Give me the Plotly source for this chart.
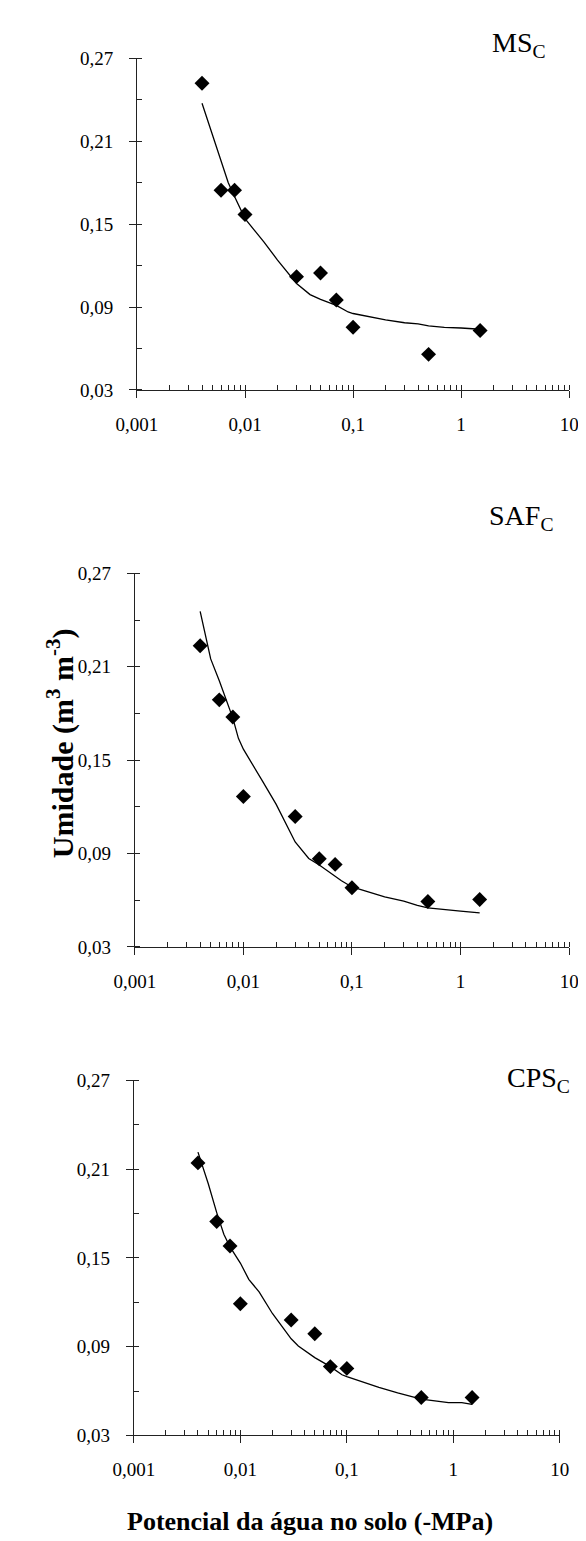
import plotly.graph_objects as go

# ---- data ----
obs_x = [0.004, 0.006, 0.008, 0.01, 0.03, 0.05, 0.07, 0.1, 0.5, 1.5]

ms_obs = [0.252, 0.1746, 0.1746, 0.157, 0.112, 0.1146, 0.095, 0.0753, 0.0557, 0.073]
saf_obs = [0.2235, 0.1887, 0.1777, 0.1266, 0.1137, 0.0866, 0.083, 0.068, 0.0592, 0.0604]
cps_obs = [0.2142, 0.1745, 0.158, 0.119, 0.108, 0.0987, 0.0765, 0.0753, 0.0556, 0.0556]

ms_fit_x = [0.004, 0.005, 0.006, 0.007, 0.008, 0.009, 0.01, 0.015, 0.02, 0.03, 0.04,
            0.05, 0.07, 0.09, 0.1, 0.2, 0.3, 0.4, 0.5, 0.7, 0.9, 1.0, 1.5]
ms_fit_y = [0.2376, 0.214, 0.195, 0.18, 0.170, 0.161, 0.154, 0.137, 0.124, 0.107, 0.099,
            0.0955, 0.0912, 0.0864, 0.0853, 0.0807, 0.0786, 0.0778, 0.0764, 0.0753, 0.0753,
            0.0748, 0.0739]

saf_fit_x = [0.004, 0.005, 0.006, 0.007, 0.008, 0.009, 0.01, 0.015, 0.02, 0.03, 0.04,
             0.05, 0.07, 0.08, 0.1, 0.2, 0.3, 0.4, 0.5, 0.7, 0.9, 1.0, 1.5]
saf_fit_y = [0.2455, 0.215, 0.201, 0.188, 0.177, 0.164, 0.157, 0.1365, 0.1217, 0.0974,
             0.0868, 0.0826, 0.0752, 0.0725, 0.0685, 0.0621, 0.0594, 0.0566, 0.0551,
             0.0539, 0.053, 0.053, 0.0518]

cps_fit_x = [0.004, 0.005, 0.006, 0.007, 0.008, 0.009, 0.01, 0.012, 0.015, 0.02, 0.03,
             0.035, 0.05, 0.07, 0.09, 0.1, 0.2, 0.3, 0.4, 0.5, 0.7, 0.9, 1.2, 1.5]
cps_fit_y = [0.2215, 0.2001, 0.1806, 0.166, 0.1574, 0.1513, 0.1465, 0.1355, 0.127, 0.1124,
             0.0953, 0.0904, 0.0826, 0.0765, 0.071, 0.0697, 0.0624, 0.0587, 0.0563, 0.0546,
             0.0532, 0.0522, 0.0522, 0.051]

panel_names = ["MS<sub>C</sub>", "SAF<sub>C</sub>", "CPS<sub>C</sub>"]

x_tickvals = [0.001, 0.01, 0.1, 1, 10]
x_ticktext = ["0,001", "0,01", "0,1", "1", "10"]
y_tickvals = [0.03, 0.09, 0.15, 0.21, 0.27]
y_ticktext = ["0,03", "0,09", "0,15", "0,21", "0,27"]

x_title = "Potencial da água no solo (-MPa)"
y_title = "Umidade (m<sup>3</sup> m<sup>-3</sup>)"

# ---- layout geometry ----
W, H = 586, 1541
x_dom = [(114, 570.3), (111.7, 570.3), (110.7, 560.5)]
y_dom = [(41, 377), (563, 941.7), (1077, 1437)]
label_pos = [(548, 27), (555, 506), (573, 1076)]

FONT = "Liberation Serif, Times New Roman, serif"
AX = "#222222"

fig = go.Figure()
series = [(ms_obs, ms_fit_x, ms_fit_y), (saf_obs, saf_fit_x, saf_fit_y),
          (cps_obs, cps_fit_x, cps_fit_y)]

layout = {}
for i, (obs, fx, fy) in enumerate(series):
    k = i + 1
    xs = "x" if k == 1 else f"x{k}"
    ys = "y" if k == 1 else f"y{k}"
    fig.add_trace(go.Scatter(x=fx, y=fy, mode="lines", xaxis=xs, yaxis=ys,
                             line=dict(color="black", width=1.3), hoverinfo="skip"))
    fig.add_trace(go.Scatter(x=obs_x, y=obs, mode="markers", xaxis=xs, yaxis=ys,
                             marker=dict(symbol="diamond", size=11.5, color="black")))
    xd = [x_dom[i][0] / W, x_dom[i][1] / W]
    yd = [1 - y_dom[i][1] / H, 1 - y_dom[i][0] / H]
    layout[f"xaxis{k}"] = dict(
        domain=xd, anchor=ys, type="log", range=[-3, 1], autorange=False,
        tickvals=x_tickvals, ticktext=x_ticktext, ticks="outside", ticklen=7,
        tickwidth=1, tickcolor=AX, showline=True, linecolor=AX, linewidth=1,
        showgrid=False, zeroline=False, ticklabelstandoff=10,
        tickfont=dict(family=FONT, size=19, color="black"),
        minor=dict(ticks="inside", ticklen=5, tickwidth=1, tickcolor=AX,
                   dtick="D1", showgrid=False))
    layout[f"yaxis{k}"] = dict(
        domain=yd, anchor=xs, range=[0.03, 0.27], autorange=False,
        tickvals=y_tickvals, ticktext=y_ticktext, ticks="outside", ticklen=7,
        tickwidth=1, tickcolor=AX, showline=True, linecolor=AX, linewidth=1,
        showgrid=False, zeroline=False, ticklabelstandoff=12,
        tickfont=dict(family=FONT, size=19, color="black"),
        minor=dict(ticks="inside", ticklen=5, tickwidth=1, tickcolor=AX,
                   tick0=0.03, dtick=0.03, showgrid=False))
    # overlay axes giving the inner half of the crossing major ticks
    layout[f"xaxis{k + 3}"] = dict(
        domain=xd, anchor=ys, overlaying=xs, type="log", range=[-3, 1],
        autorange=False, tickvals=x_tickvals, ticks="inside", ticklen=5,
        tickwidth=1, tickcolor=AX, showticklabels=False, showline=False,
        showgrid=False, zeroline=False)
    layout[f"yaxis{k + 3}"] = dict(
        domain=yd, anchor=xs, overlaying=ys, range=[0.03, 0.27],
        autorange=False, tickvals=y_tickvals, ticks="inside", ticklen=5,
        tickwidth=1, tickcolor=AX, showticklabels=False, showline=False,
        showgrid=False, zeroline=False)

annotations = []
for i, name in enumerate(panel_names):
    px, py = label_pos[i]
    annotations.append(dict(text=name, x=px / W, y=1 - py / H, xref="paper", yref="paper",
                            xanchor="right", yanchor="middle", showarrow=False,
                            font=dict(family=FONT, size=28, color="black")))
annotations.append(dict(text=f"<b>{y_title}</b>", x=34 / W, y=1 - 735 / H,
                        xref="paper", yref="paper", xanchor="center", yanchor="middle",
                        textangle=-90, showarrow=False,
                        font=dict(family=FONT, size=30, color="black")))
annotations.append(dict(text=f"<b>{x_title}</b>", x=297 / W, y=1 - 1524 / H,
                        xref="paper", yref="paper", xanchor="center", yanchor="middle",
                        showarrow=False, font=dict(family=FONT, size=26, color="black")))

fig.update_layout(width=W, height=H, margin=dict(l=0, r=0, t=0, b=0),
                  paper_bgcolor="white", plot_bgcolor="white", showlegend=False,
                  annotations=annotations, **layout)

fig.write_html("out.html")
